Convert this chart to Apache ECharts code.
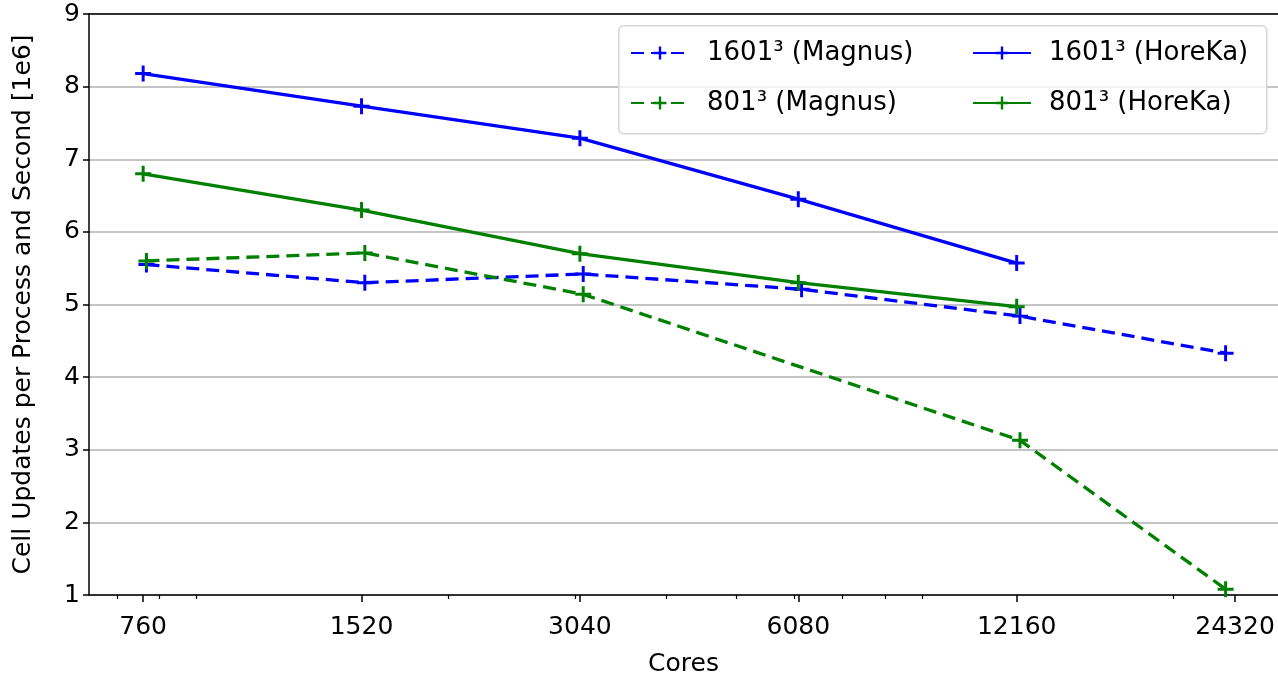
<!DOCTYPE html>
<html>
<head>
<meta charset="utf-8">
<title>Cell updates per process and second</title>
<script src="https://cdn.jsdelivr.net/npm/echarts@6.0.0/dist/echarts.min.js"></script>
<style>
    html, body { margin: 0; padding: 0; background: #fff; }
    #chart { width: 1278px; height: 675px; }
</style>
</head>
<body>
<div id="chart"></div>
<script>
// Số lõi (trục x, thang log)
const coresHoreKa = [760, 1520, 3040, 6080, 12160];
const coresMagnus1601 = [768, 1536, 3072, 6144, 12288, 23600];
const coresMagnus801 = [768, 1536, 3072, 12288, 23600];

// Giá trị đo (1e6 cell updates / process / second)
const magnus1601 = [5.55, 5.30, 5.42, 5.21, 4.84, 4.33];
const magnus801 = [5.60, 5.71, 5.14, 3.13, 1.08];
const horeka1601 = [8.18, 7.73, 7.29, 6.45, 5.57];
const horeka801 = [6.80, 6.30, 5.70, 5.30, 4.97];

// Nhãn trục
const xTickLabels = [760, 1520, 3040, 6080, 12160, 24320];
const xMinorTicks = [700, 800, 900, 2000, 3000, 4000, 5000, 6000, 7000, 8000, 9000, 20000];

const BLUE = '#0000ff';
const GREEN = '#008000';
const FONT = 'DejaVu Sans';
const PLUS = 'path://M-1.3,-7 L1.3,-7 L1.3,-1.3 L7,-1.3 L7,1.3 L1.3,1.3 L1.3,7 L-1.3,7 L-1.3,1.3 L-7,1.3 L-7,-1.3 L-1.3,-1.3 Z';

function pairs(xs, ys) {
    return xs.map((x, i) => [x, ys[i]]);
}

function makeSeries(name, xs, ys, color, dashed) {
    return {
        name: name,
        type: 'line',
        data: pairs(xs, ys),
        symbol: PLUS,
        symbolSize: 16,
        showSymbol: true,
        color: color,
        itemStyle: { color: color },
        lineStyle: { color: color, width: 3.3, type: dashed ? [13, 7] : 'solid' },
        emphasis: { disabled: true },
        animation: false
    };
}

function xLog(extra) {
    return Object.assign({
        type: 'log',
        logBase: 10,
        min: 640,
        max: 27870,
        gridIndex: 0
    }, extra);
}

const legendText = { fontFamily: FONT, fontSize: 26, color: '#000', lineHeight: 30, padding: [0, 0, 0, 13] };

const chart = echarts.init(document.getElementById('chart'));
chart.setOption({
    backgroundColor: '#fff',
    animation: false,
    grid: { left: 89, top: 14, right: 0, bottom: 80, outerBoundsMode: 'none', containLabel: false },
    graphic: [{
        type: 'rect',
        left: 618, top: 25,
        shape: { width: 648, height: 108, r: 5 },
        style: { fill: 'rgba(255,255,255,0.8)', stroke: '#d6d6d6', lineWidth: 1.5 },
        z: 90
    }],
    legend: [{
        orient: 'vertical',
        left: 630, top: 38,
        padding: 0,
        itemGap: 20,
        itemWidth: 58,
        itemHeight: 16,
        textStyle: legendText,
        data: ['1601³ (Magnus)', '801³ (Magnus)'],
        z: 100
    }, {
        orient: 'vertical',
        left: 972, top: 38,
        padding: 0,
        itemGap: 20,
        itemWidth: 58,
        itemHeight: 16,
        textStyle: legendText,
        data: ['1601³ (HoreKa)', '801³ (HoreKa)'],
        z: 100
    }],
    xAxis: [
        xLog({
            position: 'bottom',
            name: 'Cores',
            nameLocation: 'middle',
            nameGap: 57,
            nameTextStyle: { fontFamily: FONT, fontSize: 25, color: '#000' },
            axisLine: { show: true, onZero: false, lineStyle: { color: '#000', width: 1.5 } },
            axisTick: { show: true, length: 7, lineStyle: { color: '#000', width: 1.5 }, customValues: xTickLabels },
            axisLabel: {
                fontFamily: FONT, fontSize: 25, color: '#000', margin: 20,
                customValues: xTickLabels,
                formatter: v => String(Math.round(v))
            },
            splitLine: { show: false },
            minorTick: { show: false }
        }),
        xLog({
            position: 'bottom',
            axisLine: { show: false },
            axisTick: { show: true, length: 4, lineStyle: { color: '#000', width: 1.2 }, customValues: xMinorTicks },
            axisLabel: { show: false },
            splitLine: { show: false }
        }),
        xLog({
            position: 'top',
            axisLine: { show: true, onZero: false, lineStyle: { color: '#000', width: 1.5 } },
            axisTick: { show: false },
            axisLabel: { show: false },
            splitLine: { show: false }
        })
    ],
    yAxis: {
        type: 'value',
        min: 1,
        max: 9,
        interval: 1,
        name: 'Cell Updates per Process and Second [1e6]',
        nameLocation: 'middle',
        nameRotate: 90,
        nameGap: 53,
        nameTextStyle: { fontFamily: FONT, fontSize: 25, color: '#000' },
        axisLine: { show: true, lineStyle: { color: '#000', width: 1.5 } },
        axisTick: { show: true, length: 6, lineStyle: { color: '#000', width: 1.5 } },
        axisLabel: { fontFamily: FONT, fontSize: 25, color: '#000', margin: 9 },
        splitLine: { show: true, lineStyle: { color: '#c4c4c4', width: 1.8 } }
    },
    series: [
        makeSeries('1601³ (Magnus)', coresMagnus1601, magnus1601, BLUE, true),
        makeSeries('801³ (Magnus)', coresMagnus801, magnus801, GREEN, true),
        makeSeries('1601³ (HoreKa)', coresHoreKa, horeka1601, BLUE, false),
        makeSeries('801³ (HoreKa)', coresHoreKa, horeka801, GREEN, false)
    ]
});
</script>
</body>
</html>
